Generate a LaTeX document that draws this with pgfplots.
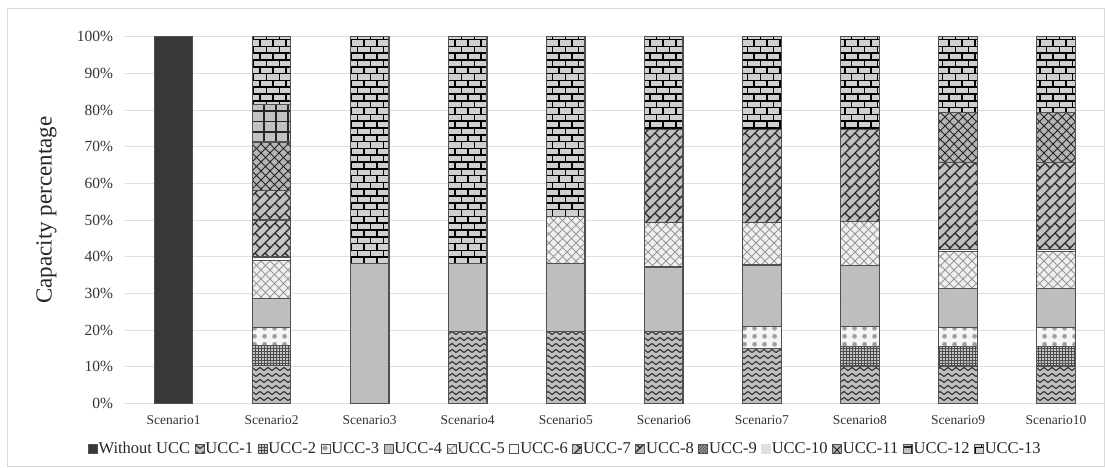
\documentclass[border=0pt]{standalone}
\usepackage{fontspec}
\setmainfont{Liberation Serif}
\usepackage{pgfplots}
\usepackage{pgfplotstable}
\pgfplotsset{compat=1.18}
\usetikzlibrary{patterns}

% ---------- custom patterns (sizes in bp, 1bp ~ 1px) ----------
\pgfdeclarepatternformonly{ubricks}{\pgfqpoint{-1bp}{-1bp}}{\pgfqpoint{14bp}{14.6bp}}{\pgfqpoint{13bp}{13.6bp}}{%
  \pgfsetlinewidth{1.7bp}%
  \pgfpathmoveto{\pgfqpoint{-1bp}{0bp}}\pgfpathlineto{\pgfqpoint{14bp}{0bp}}%
  \pgfpathmoveto{\pgfqpoint{-1bp}{6.8bp}}\pgfpathlineto{\pgfqpoint{14bp}{6.8bp}}%
  \pgfpathmoveto{\pgfqpoint{0bp}{0bp}}\pgfpathlineto{\pgfqpoint{0bp}{6.8bp}}%
  \pgfpathmoveto{\pgfqpoint{6.5bp}{6.8bp}}\pgfpathlineto{\pgfqpoint{6.5bp}{13.6bp}}%
  \pgfusepath{stroke}}
\pgfdeclarepatternformonly{uwave}{\pgfqpoint{-1bp}{-1bp}}{\pgfqpoint{9bp}{7bp}}{\pgfqpoint{8bp}{6bp}}{%
  \pgfsetlinewidth{1.1bp}%
  \pgfpathmoveto{\pgfqpoint{0bp}{1.5bp}}%
  \pgfpathcurveto{\pgfqpoint{2bp}{1.5bp}}{\pgfqpoint{2bp}{4.5bp}}{\pgfqpoint{4bp}{4.5bp}}%
  \pgfpathcurveto{\pgfqpoint{6bp}{4.5bp}}{\pgfqpoint{6bp}{1.5bp}}{\pgfqpoint{8bp}{1.5bp}}%
  \pgfusepath{stroke}}
\pgfdeclarepatternformonly{usmallgrid}{\pgfqpoint{-0.5bp}{-0.5bp}}{\pgfqpoint{3.5bp}{3.5bp}}{\pgfqpoint{3bp}{3bp}}{%
  \pgfsetlinewidth{0.9bp}%
  \pgfpathmoveto{\pgfqpoint{-0.5bp}{0bp}}\pgfpathlineto{\pgfqpoint{3.5bp}{0bp}}%
  \pgfusepath{stroke}%
  \pgfsetlinewidth{0.6bp}%
  \pgfpathmoveto{\pgfqpoint{0bp}{-0.5bp}}\pgfpathlineto{\pgfqpoint{0bp}{3.5bp}}%
  \pgfusepath{stroke}}
\pgfdeclarepatternformonly{ublobs}{\pgfqpoint{0bp}{0bp}}{\pgfqpoint{10bp}{8bp}}{\pgfqpoint{10bp}{8bp}}{%
  \pgfpathcircle{\pgfqpoint{5bp}{4bp}}{2.6bp}%
  \pgfusepath{fill}}
\pgfdeclarepatternformonly{udots}{\pgfqpoint{0bp}{0bp}}{\pgfqpoint{3bp}{3bp}}{\pgfqpoint{3bp}{3bp}}{%
  \pgfpathcircle{\pgfqpoint{1.5bp}{1.5bp}}{0.6bp}%
  \pgfusepath{fill}}
\pgfdeclarepatternformonly{ucross}{\pgfqpoint{-1bp}{-1bp}}{\pgfqpoint{10bp}{10bp}}{\pgfqpoint{9bp}{9bp}}{%
  \pgfsetlinewidth{0.9bp}%
  \pgfpathmoveto{\pgfqpoint{-1bp}{-1bp}}\pgfpathlineto{\pgfqpoint{10bp}{10bp}}%
  \pgfpathmoveto{\pgfqpoint{-1bp}{10bp}}\pgfpathlineto{\pgfqpoint{10bp}{-1bp}}%
  \pgfusepath{stroke}}
\pgfdeclarepatternformonly{udiagbrick}{\pgfqpoint{-1bp}{-1bp}}{\pgfqpoint{11bp}{11bp}}{\pgfqpoint{10bp}{10bp}}{%
  \pgfsetlinewidth{1.1bp}%
  \pgfpathmoveto{\pgfqpoint{-1bp}{-1bp}}\pgfpathlineto{\pgfqpoint{11bp}{11bp}}%
  \pgfpathmoveto{\pgfqpoint{5bp}{5bp}}\pgfpathlineto{\pgfqpoint{10bp}{0bp}}%
  \pgfusepath{stroke}}
\pgfdeclarepatternformonly{ugrid}{\pgfqpoint{-1bp}{-1bp}}{\pgfqpoint{13bp}{11.5bp}}{\pgfqpoint{12bp}{10.5bp}}{%
  \pgfsetlinewidth{1.5bp}%
  \pgfpathmoveto{\pgfqpoint{-1bp}{0bp}}\pgfpathlineto{\pgfqpoint{13bp}{0bp}}%
  \pgfpathmoveto{\pgfqpoint{0bp}{-1bp}}\pgfpathlineto{\pgfqpoint{0bp}{11.5bp}}%
  \pgfusepath{stroke}}

\definecolor{outl}{HTML}{505050}

% ---------- data (capacity percentage) ----------
\pgfplotstableread{
x  W    U1   U2  U3  U4   U5   U6  U7   U8   U11  U12  U13
1  100  0    0   0   0    0    0   0    0    0    0    0
2  0    10.4 5.4 4.8 8.0  10.4 0.9 10.1 8.1  13.2 10.3 18.4
3  0    0    0   0   38.2 0    0   0    0    0    0    61.8
4  0    19.5 0   0   18.7 0    0   0    0    0    0    61.8
5  0    19.5 0   0   18.7 12.7 0   0    0    0    0    49.1
6  0    19.5 0   0   17.7 12.2 0   0    25.2 0    0    25.4
7  0    15.0 0   6.0 16.7 11.6 0   0    25.3 0    0    25.4
8  0    10.2 5.2 5.6 16.5 12.0 0   0    25.1 0    0    25.4
9  0    10.2 5.3 5.1 10.7 10.1 0.6 0    23.6 13.7 0    20.7
10 0    10.2 5.3 5.1 10.7 10.1 0.6 0    23.6 13.7 0    20.7
}\datatable

\begin{document}
\begin{tikzpicture}
\useasboundingbox (0bp,0bp) rectangle (1105bp,468bp);
\draw[gray!30, line width=0.8bp] (7.5bp,2bp) rectangle (1104bp,460bp);
\begin{axis}[
  at={(124.5bp,64.7bp)}, anchor=south west,
  width=980.6bp, height=366.6bp, scale only axis,
  xmin=0.5, xmax=10.5, ymin=0, ymax=100,
  clip=false,
  ybar stacked, bar width=38.5bp,
  xtick={1,...,10},
  xticklabels={Scenario1,Scenario2,Scenario3,Scenario4,Scenario5,Scenario6,Scenario7,Scenario8,Scenario9,Scenario10},
  xticklabel style={font=\fontsize{13.5bp}{15bp}\selectfont, anchor=center, yshift=-16.7bp, text=black!80},
  ytick={0,10,...,100},
  yticklabel={\pgfmathprintnumber[assume math mode=true]{\tick}\%},
  yticklabel style={font=\fontsize{15.5bp}{17bp}\selectfont, xshift=-8bp, text=black!80},
  ymajorgrids, grid style={gray!25, line width=0.8bp},
  axis line style={draw=none}, major tick length=0pt,
  ylabel={Capacity percentage},
  ylabel style={at={(axis description cs:-0.0795,0.527)}, anchor=center, font=\fontsize{23bp}{26bp}\selectfont, text=black!85},
  legend columns=14,
  legend style={at={(0.449,-0.1247)}, anchor=center, draw=none, fill=none,
    font=\fontsize{16.5bp}{18bp}\selectfont, text=black!85,
    /tikz/every even column/.append style={column sep=3.5bp},
    nodes={inner sep=1bp}},
  myleg/.style={legend image code/.code={\draw[##1, line width=0.8bp] (0bp,-4.5bp) rectangle (9bp,4.5bp);}},
  bstyle/.style={draw=outl, line width=1.2bp, myleg},
]
\addplot[bstyle, fill=black!78] table[x=x,y=W]{\datatable};
\addlegendentry{Without UCC}
\addplot[bstyle, fill=gray!50, postaction={pattern=uwave, pattern color=black!80}] table[x=x,y=U1]{\datatable};
\addlegendentry{UCC-1}
\addplot[bstyle, fill=gray!45, postaction={pattern=usmallgrid, pattern color=black!70}] table[x=x,y=U2]{\datatable};
\addlegendentry{UCC-2}
\addplot[bstyle, fill=gray!8, postaction={pattern=ublobs, pattern color=gray!75}] table[x=x,y=U3]{\datatable};
\addlegendentry{UCC-3}
\addplot[bstyle, fill=gray!52, postaction={pattern=udots, pattern color=gray!25}] table[x=x,y=U4]{\datatable};
\addlegendentry{UCC-4}
\addplot[bstyle, fill=gray!12, postaction={pattern=ucross, pattern color=gray!80}] table[x=x,y=U5]{\datatable};
\addlegendentry{UCC-5}
\addplot[bstyle, fill=gray!5] table[x=x,y=U6]{\datatable};
\addlegendentry{UCC-6}
\addplot[bstyle, fill=gray!45, postaction={pattern=udiagbrick, pattern color=black!85}] table[x=x,y=U7]{\datatable};
\addlegendentry{UCC-7}
\addplot[bstyle, fill=gray!50, postaction={pattern=udiagbrick, pattern color=black!85}] table[x=x,y=U8]{\datatable};
\addlegendentry{UCC-8}
\addlegendimage{bstyle, fill=gray!70, postaction={pattern=north east lines, pattern color=black}}
\addlegendentry{UCC-9}
\addlegendimage{legend image code/.code={\fill[gray!25] (0bp,-4.5bp) rectangle (9bp,4.5bp);}}
\addlegendentry{UCC-10}
\addplot[bstyle, fill=gray!58, postaction={pattern=ucross, pattern color=black!85}] table[x=x,y=U11]{\datatable};
\addlegendentry{UCC-11}
\addplot[bstyle, fill=gray!48, postaction={pattern=ugrid, pattern color=black!85}] table[x=x,y=U12]{\datatable};
\addlegendentry{UCC-12}
\addplot[bstyle, fill=gray!38, postaction={pattern=ubricks, pattern color=black}] table[x=x,y=U13]{\datatable};
\addlegendentry{UCC-13}
\end{axis}
\end{tikzpicture}
\end{document}
